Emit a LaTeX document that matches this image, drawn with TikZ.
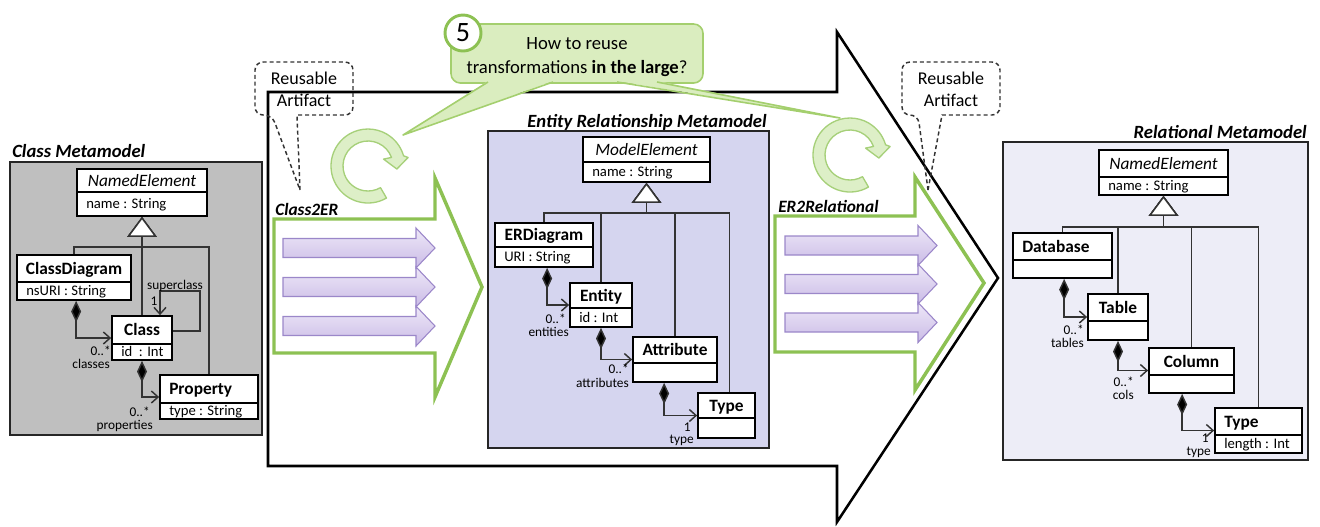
\documentclass[tikz,border=0pt]{standalone}
\usepackage{fontspec}
\setmainfont{Carlito}
\usetikzlibrary{arrows.meta,calc,fit}

\definecolor{classgray}{HTML}{BFBFBF}
\definecolor{erfill}{HTML}{D5D5EF}
\definecolor{relfill}{HTML}{EDEDF7}
\definecolor{conn}{HTML}{333333}
\definecolor{greenline}{HTML}{8DC153}
\definecolor{calloutfill}{HTML}{DAEDBF}
\definecolor{calloutline}{HTML}{A4CF6E}
\definecolor{cyclefill}{HTML}{DDEFC7}
\definecolor{cycleline}{HTML}{A6D079}
\definecolor{purpletop}{HTML}{EEE8F8}
\definecolor{purplebot}{HTML}{CABBE6}
\definecolor{purpleline}{HTML}{9B87C9}

% UML class box: [header alignment c/l]{name}{x1}{y1}{x2}{y divider}{y2}{header}{attributes}
\newcommand\umlclass[9][c]{%
  \path (#3,-#4) coordinate (#2-nw) (#5,-#7) coordinate (#2-se);
  \node[umlbox, fit=(#2-nw)(#2-se)] (#2) {};
  \draw[umldiv] (#3,-#6) -- (#5,-#6);
  \if l#1
    \node[headtext, anchor=west] (#2-head) at ({#3+9},{-(#4+#6)/2}) {#8};
  \else
    \node[headtext] (#2-head) at ({(#3+#5)/2},{-(#4+#6)/2}) {#8};
  \fi
  \node[attrtext, anchor=west] (#2-attr) at ({#3+9},{-(#6+#7)/2}) {#9};
}

% block arrow of a rule: {left}{shaft end}{tip}{centre y}
\newcommand\flowarrow[4]{%
  \shadedraw[flow] (#1,{-(#4-9.5)}) -- (#2,{-(#4-9.5)}) -- (#2,{-(#4-20)}) -- (#3,-#4)
    -- (#2,{-(#4+20)}) -- (#2,{-(#4+9.5)}) -- (#1,{-(#4+9.5)}) -- cycle;
}

% circular reuse arrow: {name}{centre x}{centre y}
\newcommand\cyclearrow[3]{%
  \coordinate (#1) at (#2,-#3);
  \filldraw[cyclestyle] ($(#1)+(-60:27.75pt)$) arc[start angle=-60, end angle=-344, radius=27.75pt]
    -- ($(#1)+(12:30.75pt)$) -- ($(#1)+(-6:21.75pt)$) -- ($(#1)+(24:12.75pt)$) -- ($(#1)+(20:18.75pt)$)
    arc[start angle=-340, end angle=-60, radius=18.75pt] -- cycle;
}

\begin{document}
\begin{tikzpicture}[x=0.75pt, y=0.75pt,
  umlbox/.style={draw=black, line width=1.3pt, fill=white, inner sep=0pt},
  umldiv/.style={draw=black, line width=1pt},
  headtext/.style={font=\fontsize{13}{15}\selectfont, inner sep=0pt, text height=8.6pt, text depth=0pt},
  attrtext/.style={font=\fontsize{11}{13}\selectfont, inner sep=0pt, text height=7.2pt, text depth=0pt},
  lbl/.style={font=\fontsize{10}{12}\selectfont, inner sep=0pt, text height=6.6pt, text depth=0pt},
  titletext/.style={font=\fontsize{14}{16}\selectfont\bfseries\itshape, inner sep=0pt},
  trafotext/.style={font=\fontsize{13}{15}\selectfont\bfseries\itshape, inner sep=0pt},
  container/.style={draw=black!85, line width=1.6pt, inner sep=0pt},
  gen/.style={draw=conn, line width=1.1pt, -{Triangle[length=15pt, width=22pt, fill=white]}},
  comp/.style={draw=conn, line width=1.1pt, {Diamond[length=16pt, width=7.5pt, fill=black]}-{Straight Barb[length=5pt, width=9pt]}},
  assoc/.style={draw=conn, line width=1.1pt, -{Straight Barb[length=5pt, width=9pt]}},
  bigarrow/.style={draw=black, line width=1.9pt, line join=miter},
  trafo/.style={draw=greenline, line width=2.6pt, line join=miter},
  flow/.style={top color=purpletop, bottom color=purplebot, draw=purpleline, line width=0.8pt},
  cyclestyle/.style={fill=cyclefill, draw=cycleline, line width=1pt, line join=round},
  callout/.style={fill=calloutfill, draw=calloutline, line width=1.2pt},
  artifact/.style={draw=black!80, line width=1.1pt, dash pattern=on 3pt off 2.2pt},
  bubbletext/.style={font=\fontsize{14}{18}\selectfont, align=center, inner sep=0pt},
  artifacttext/.style={font=\fontsize{13.5}{16.5}\selectfont, align=center, inner sep=0pt},
]
\useasboundingbox (0,-526) rectangle (1320,0);

% the large transformation-chain arrow
\draw[bigarrow] (268,-92) -- (837,-92) -- (837,-32) -- (998,-278) -- (837,-522)
  -- (837,-466) -- (268,-466) -- cycle;

% ---------- Class metamodel ----------
\path (10,-162) coordinate (cm-nw) (262,-435) coordinate (cm-se);
\node[container, fill=classgray, fit=(cm-nw)(cm-se)] (cm) {};
\node[titletext, anchor=base west] (cm-title) at (12,-157) {Class Metamodel};

\umlclass{ne}{77}{169}{207}{192}{216}{\textit{NamedElement}}{name : String}
\umlclass{cd}{17}{255}{131}{282}{300}{\textbf{ClassDiagram}}{nsURI : String}
\umlclass{cls}{112}{316}{172}{344}{360}{\textbf{Class}}{id \ : Int}
\umlclass[l]{prop}{160}{375}{258}{403}{419}{\textbf{Property}}{type : String}

\coordinate (cm-bar) at (0,-247);
\draw[gen] (cd.north) |- (cm-bar -| ne.south) -- (ne.south);
\draw[gen] (prop.north) |- (cm-bar -| ne.south) -- (ne.south);
\draw[gen] (cls.north) -- (ne.south);

\draw[assoc] ($(cls.east)+(0,7)$) -| ($(cls.north east)+(27,24)$) -| ($(cls.north)+(18,0)$);
\draw[comp] ($(cd.south -| cls.west)+(-35,0)$) |- (cls.west);
\draw[comp] (cls.south) |- (prop.west);

\node[lbl] (l-super) at (175,-285) {superclass};
\node[lbl] (l-super-m) at (154,-301) {1};
\node[lbl, anchor=east] (l-cls-m) at (111,-351) {0..*};
\node[lbl, anchor=east] (l-cls) at (110,-364) {classes};
\node[lbl, anchor=east] (l-prop-m) at (150,-412) {0..*};
\node[lbl, anchor=east] (l-prop) at (153,-425) {properties};

% ---------- rule arrows ----------
\draw[trafo] (274,-219) -- (435,-219) -- (435,-178) -- (482,-287) -- (435,-397)
  -- (435,-353) -- (274,-353) -- cycle;
\node[trafotext, anchor=base west] (c2er) at (275,-215) {Class2ER};
\flowarrow{283}{416}{435}{248}
\flowarrow{283}{416}{435}{287}
\flowarrow{283}{416}{435}{326}

\draw[trafo] (775,-216) -- (915,-216) -- (915,-177) -- (984,-283) -- (915,-390)
  -- (915,-352) -- (775,-352) -- cycle;
\node[trafotext, anchor=base west] (er2r) at (778,-212) {ER2Relational};
\flowarrow{785}{918}{937}{245.5}
\flowarrow{785}{918}{937}{284}
\flowarrow{785}{918}{937}{322.5}

\cyclearrow{cyc1}{368}{166}
\cyclearrow{cyc2}{850}{155}

% ---------- Entity Relationship metamodel ----------
\path (488,-131) coordinate (er-nw) (769,-448) coordinate (er-se);
\node[container, fill=erfill, fit=(er-nw)(er-se)] (er) {};
\node[titletext, anchor=base east] (er-title) at (767,-127) {Entity Relationship Metamodel};

\umlclass{me}{583}{137}{710}{162}{182}{\textit{ModelElement}}{name : String}
\umlclass{erd}{495}{223}{593}{247}{267}{\textbf{ERDiagram}}{URI : String}
\umlclass{ent}{570}{283}{632}{308}{327}{\textbf{Entity}}{id : Int}
\umlclass{att}{633}{337}{717}{363}{382}{\textbf{Attribute}}{}
\umlclass{ertype}{698}{393}{755}{418}{438}{\textbf{Type}}{}

\coordinate (er-bar) at (0,-213);
\draw[gen] (erd.north) |- (er-bar -| me.south) -- (me.south);
\draw[gen] (ent.north) |- (er-bar -| me.south) -- (me.south);
\draw[gen] (att.north) |- (er-bar -| me.south) -- (me.south);
\draw[gen] ($(ertype.north)+(3,0)$) |- (er-bar -| me.south) -- (me.south);

\draw[comp] ($(erd.south -| ent.west)+(-22,0)$) |- (ent.west);
\draw[comp] (ent.south) |- (att.west);
\draw[comp] ($(att.south -| ertype.west)+(-33,0)$) |- (ertype.west);

\node[lbl, anchor=east] (l-ent-m) at (566,-319) {0..*};
\node[lbl, anchor=east] (l-ent) at (569,-332) {entities};
\node[lbl, anchor=east] (l-att-m) at (629,-369) {0..*};
\node[lbl, anchor=east] (l-att) at (629,-383) {attributes};
\node[lbl, anchor=east] (l-ert-m) at (691,-427) {1};
\node[lbl, anchor=east] (l-ert) at (694,-439) {type};

% ---------- Relational metamodel ----------
\path (1003,-142) coordinate (rel-nw) (1308,-460) coordinate (rel-se);
\node[container, fill=relfill, fit=(rel-nw)(rel-se)] (rel) {};
\node[titletext, anchor=base east] (rel-title) at (1307,-138) {Relational Metamodel};

\umlclass{rne}{1099}{150}{1228}{177}{195}{\textit{NamedElement}}{name : String}
\umlclass[l]{db}{1013}{233}{1112}{260}{278}{\textbf{Database}}{}
\umlclass{tab}{1088}{294}{1148}{321}{340}{\textbf{Table}}{}
\umlclass{col}{1149}{348}{1234}{375}{393}{\textbf{Column}}{}
\umlclass[l]{rtype}{1215}{408}{1302}{435}{453}{\textbf{Type}}{length : Int}

\coordinate (rel-bar) at (0,-227);
\draw[gen] (db.north) |- (rel-bar -| rne.south) -- (rne.south);
\draw[gen] (tab.north) |- (rel-bar -| rne.south) -- (rne.south);
\draw[gen] (col.north) |- (rel-bar -| rne.south) -- (rne.south);
\draw[gen] (rtype.north) |- (rel-bar -| rne.south) -- (rne.south);

\draw[comp] ($(db.south -| tab.west)+(-23,0)$) |- (tab.west);
\draw[comp] (tab.south) |- (col.west);
\draw[comp] ($(col.south -| rtype.west)+(-32,0)$) |- (rtype.west);

\node[lbl, anchor=east] (l-tab-m) at (1084,-330) {0..*};
\node[lbl, anchor=east] (l-tab) at (1084,-343) {tables};
\node[lbl, anchor=east] (l-col-m) at (1134,-382) {0..*};
\node[lbl, anchor=east] (l-col) at (1134,-395) {cols};
\node[lbl, anchor=east] (l-rt-m) at (1209,-438) {1};
\node[lbl, anchor=east] (l-rt) at (1211,-451) {type};

% ---------- question bubble ----------
\path (451,-24) coordinate (q-nw) (703,-83) coordinate (q-se);
\node[callout, rounded corners=7pt, inner sep=0pt, fit=(q-nw)(q-se)] (q) {};
\fill[calloutfill] (488,-81) -- (403,-135) -- (553,-81) -- cycle;
\draw[calloutline, line width=1.2pt, line join=round] (488,-82) -- (403,-135) -- (553,-82);
\fill[calloutfill] (617,-81) -- (840,-118) -- (657,-81) -- cycle;
\draw[calloutline, line width=1.2pt, line join=round] (617,-82) -- (840,-118) -- (657,-82);
\node[bubbletext] (q-text) at (577,-57) {How to reuse\\transformations \textbf{in the large}?};
\node[circle, draw=greenline, line width=2.2pt, fill=white, minimum size=27pt, inner sep=0pt,
  font=\fontsize{21}{21}\selectfont] (num) at (463,-33) {5};

% ---------- reusable artifact notes ----------
\draw[artifact] (300,-190) -- (297,-115) [rounded corners=6pt] -- (353,-115) -- (353,-62)
  -- (255,-62) -- (255,-115) -- (272,-115) [sharp corners] -- (300,-190);
\node[artifacttext] (ra1) at (304,-89) {Reusable\\Artifact};
\draw[artifact] (928,-190) -- (942,-115) [rounded corners=6pt] -- (1000,-115) -- (1000,-62)
  -- (902,-62) -- (902,-115) -- (918,-115) [sharp corners] -- (928,-190);
\node[artifacttext] (ra2) at (951,-89) {Reusable\\Artifact};
\end{tikzpicture}
\end{document}
